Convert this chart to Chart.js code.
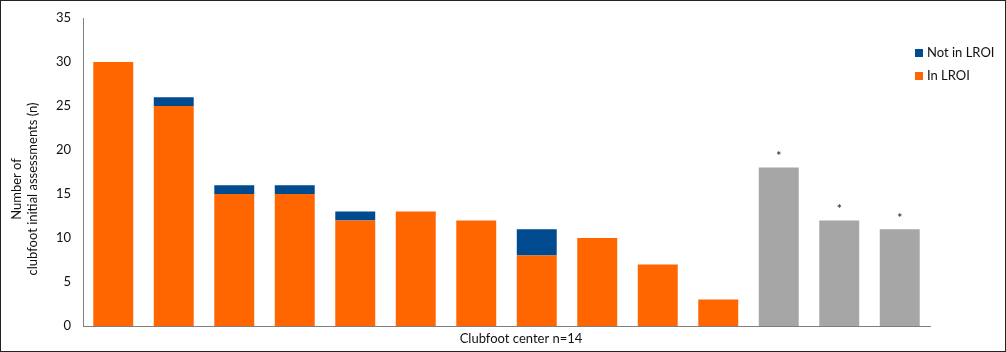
<!DOCTYPE html>
<html>
<head>
<meta charset="utf-8">
<script src="https://cdn.jsdelivr.net/npm/chart.js@4.4.0/dist/chart.umd.min.js"></script>
<style>
html,body{margin:0;padding:0;background:#fff;}
#wrap{position:absolute;left:0;top:0;width:1004px;height:350px;border:1px solid #222;}
canvas{display:block;}
</style>
</head>
<body>
<div id="wrap"><canvas id="c" width="1004" height="350"></canvas></div>
<script>
const categories = ['1','2','3','4','5','6','7','8','9','10','11','12','13','14'];
const inLROI    = [30, 25, 15, 15, 12, 13, 12, 8, 10, 7, 3, null, null, null];
const notInLROI = [0, 1, 1, 1, 1, 0, 0, 3, 0, 0, 0, null, null, null];
const otherCenters = [null, null, null, null, null, null, null, null, null, null, null, 18, 12, 11];
const otherMarks = ['*', '*', '*'];
const yTicks = [0, 5, 10, 15, 20, 25, 30, 35];
const xTitle = 'Clubfoot center n=14';
const yTitle = ['Number of', 'clubfoot initial assessments (n)'];

const ORANGE = '#FF6600', BLUE = '#004A90', GRAY = '#A6A6A6';
const FONT = 'Lato, "Open Sans", sans-serif';

const overlay = {
  id: 'overlay',
  afterDatasetsDraw(chart) {
    const ctx = chart.ctx;
    const meta = chart.getDatasetMeta(2);
    ctx.save();
    ctx.fillStyle = '#2b3a55';
    ctx.font = 'bold 12px ' + FONT;
    ctx.textAlign = 'center';
    ctx.textBaseline = 'middle';
    let k = 0;
    otherCenters.forEach((v, i) => {
      if (v == null) return;
      const el = meta.data[i];
      ctx.fillText(otherMarks[k++], el.x, el.y - 11);
    });
    // legend
    const items = [
      {label: chart.data.datasets[1].label, color: chart.data.datasets[1].backgroundColor},
      {label: chart.data.datasets[0].label, color: chart.data.datasets[0].backgroundColor}
    ];
    ctx.font = '13px ' + FONT;
    ctx.textAlign = 'left';
    items.forEach((it, j) => {
      const y = 52 + j * 23;
      ctx.fillStyle = it.color;
      ctx.fillRect(914, y - 4, 8, 8);
      ctx.fillStyle = '#111';
      ctx.fillText(it.label, 926, y);
    });
    // axis titles
    ctx.fillStyle = '#111';
    ctx.font = '13px ' + FONT;
    ctx.textAlign = 'center';
    ctx.fillText(xTitle, 520, 338);
    ctx.translate(24, 188);
    ctx.rotate(-Math.PI / 2);
    ctx.fillText(yTitle[0], 0, -8);
    ctx.fillText(yTitle[1], 0, 8);
    ctx.restore();
  }
};

new Chart(document.getElementById('c'), {
  type: 'bar',
  data: {
    labels: categories,
    datasets: [
      {label: 'In LROI', data: inLROI, backgroundColor: ORANGE, stack: 's'},
      {label: 'Not in LROI', data: notInLROI, backgroundColor: BLUE, stack: 's'},
      {label: 'Other', data: otherCenters, backgroundColor: GRAY, stack: 's'}
    ]
  },
  options: {
    responsive: false,
    animation: false,
    layout: {padding: {top: 17, right: 75, left: 0, bottom: 0}},
    datasets: {bar: {categoryPercentage: 1, barPercentage: 0.66}},
    plugins: {legend: {display: false}, tooltip: {enabled: false}},
    scales: {
      x: {
        stacked: true,
        grid: {display: false, drawTicks: false},
        border: {color: '#7f7f7f'},
        ticks: {display: false},
        afterFit(s) { s.height = 25; }
      },
      y: {
        stacked: true,
        min: 0, max: 35,
        afterBuildTicks(s) { s.ticks = yTicks.map(v => ({value: v})); },
        grid: {display: false, drawOnChartArea: false, drawTicks: true, tickLength: 4, color: '#7f7f7f'},
        border: {color: '#7f7f7f'},
        ticks: {color: '#111', font: {family: FONT, size: 13}, padding: 8},
        afterFit(s) { s.width = 82; }
      }
    }
  },
  plugins: [overlay]
});
</script>
</body>
</html>
